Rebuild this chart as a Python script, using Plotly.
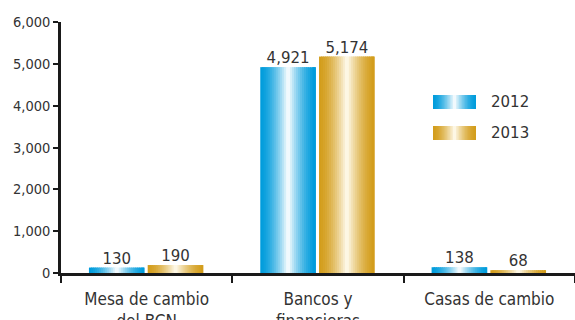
import plotly.graph_objects as go

# --- data ---
categories = ["Mesa de cambio<br>del BCN", "Bancos y<br>financieras", "Casas de cambio"]
series_names = ["2012", "2013"]
values_2012 = [130, 4921, 138]
values_2013 = [190, 5174, 68]
y_ticks = [0, 1000, 2000, 3000, 4000, 5000, 6000]

# --- styling ---
FONT = "DejaVu Sans, Verdana, sans-serif"
FONT_NARROW = "DejaVu Sans Condensed, DejaVu Sans, sans-serif"
TEXT_COLOR = "#333333"
AXIS_COLOR = "#1a1a1a"
EDGE_COLORS = {"2012": (0, 156, 220), "2013": (211, 157, 27)}
CENTER_COLORS = {"2012": (255, 255, 255), "2013": (255, 252, 240)}
BAR_WIDTH = 0.325
OFFSETS = {"2012": -0.337, "2013": 0.006}
N_SLICES = 28

W, H = 575, 320
M_L, M_R, M_T, M_B = 61, 0, 22, 47


def gradient_color(name, u):
    """Cylinder-like shade: saturated at the edges, pale in the middle."""
    d = abs(2 * u - 1)
    t = (1 - d) ** 1.6
    e, c = EDGE_COLORS[name], CENTER_COLORS[name]
    rgb = [round(e[i] + t * (c[i] - e[i])) for i in range(3)]
    return f"rgb({rgb[0]},{rgb[1]},{rgb[2]})"


fig = go.Figure()
xs = list(range(len(categories)))
series = {"2012": values_2012, "2013": values_2013}

for name in series_names:
    vals = series[name]
    sw = BAR_WIDTH / N_SLICES
    for k in range(N_SLICES):
        u = (k + 0.5) / N_SLICES
        last = k == N_SLICES - 1
        fig.add_trace(go.Bar(
            x=xs, y=vals,
            width=sw if last else sw * 1.7,
            offset=OFFSETS[name] + k * sw,
            marker=dict(color=gradient_color(name, u), line=dict(width=0)),
            showlegend=False, hoverinfo="skip",
        ))
    # value labels above each bar
    fig.add_trace(go.Scatter(
        x=[x + OFFSETS[name] + BAR_WIDTH / 2 for x in xs], y=vals,
        mode="text", text=[f"{v:,}" for v in vals],
        textposition="top center",
        textfont=dict(family=FONT, size=15, color=TEXT_COLOR),
        showlegend=False, hoverinfo="skip",
    ))

# legend: gradient swatches and labels
plot_w, plot_h = W - M_L - M_R, H - M_T - M_B
def px_x(p): return (p - M_L) / plot_w
def px_y(p): return (H - M_B - p) / plot_h

shapes = []
annotations = []
legend_rows = {"2012": 102, "2013": 133}
sx0, sx1 = 433, 476
for name in series_names:
    cy = legend_rows[name]
    for k in range(N_SLICES):
        u = (k + 0.5) / N_SLICES
        a = sx0 + (sx1 - sx0) * k / N_SLICES
        b = sx0 + (sx1 - sx0) * (k + 1.7) / N_SLICES
        shapes.append(dict(
            type="rect", xref="paper", yref="paper",
            x0=px_x(a), x1=px_x(min(b, sx1)), y0=px_y(cy + 7), y1=px_y(cy - 7),
            fillcolor=gradient_color(name, u), line=dict(width=0), layer="above",
        ))
    annotations.append(dict(
        xref="paper", yref="paper", x=px_x(489), y=px_y(cy),
        xanchor="left", yanchor="middle", showarrow=False, text=name,
        font=dict(family=FONT, size=15, color=TEXT_COLOR),
    ))

fig.update_layout(
    width=W, height=H,
    margin=dict(l=M_L, r=M_R, t=M_T, b=M_B, autoexpand=False),
    paper_bgcolor="white", plot_bgcolor="white",
    barmode="overlay",
    shapes=shapes, annotations=annotations,
    showlegend=False,
    xaxis=dict(
        range=[-0.5, 2.5], tickmode="array", tickvals=xs, ticktext=categories,
        ticks="", showgrid=False, zeroline=False, automargin=False,
        showline=True, linecolor=AXIS_COLOR, linewidth=2.5,
        tickfont=dict(family=FONT_NARROW, size=17, color=TEXT_COLOR),
        ticklabelstandoff=9,
        minor=dict(tickmode="array", tickvals=[-0.5, 0.5, 1.5, 2.5],
                   ticks="outside", ticklen=7, tickwidth=2, tickcolor=AXIS_COLOR),
        fixedrange=True,
    ),
    yaxis=dict(
        range=[0, 6000], tickmode="array", tickvals=y_ticks,
        ticktext=[f"{v:,}" for v in y_ticks], automargin=False,
        ticks="outside", ticklen=5, tickwidth=2, tickcolor=AXIS_COLOR,
        showgrid=False, zeroline=False,
        showline=True, linecolor=AXIS_COLOR, linewidth=2.5,
        tickfont=dict(family=FONT_NARROW, size=14.5, color=TEXT_COLOR),
        fixedrange=True,
    ),
)

fig.write_html("out.html")
